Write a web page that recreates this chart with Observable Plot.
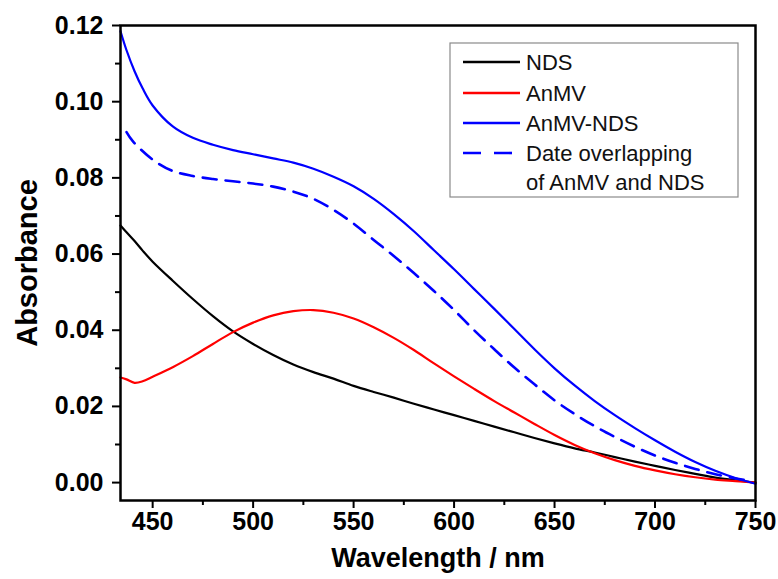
<!DOCTYPE html>
<html>
<head>
<meta charset="utf-8">
<script src="https://cdn.jsdelivr.net/npm/d3@7"></script>
<script src="https://cdn.jsdelivr.net/npm/@observablehq/plot@0.6"></script>
<style>
  html, body { margin: 0; padding: 0; background: #fff; }
  #wrap { position: relative; width: 778px; height: 579px; }
  #legend { position: absolute; left: 0; top: 0; }
</style>
</head>
<body>
<div id="wrap"></div>
<script>
// Wavelengths (nm) shared by the three measured spectra
const wavelength = [434, 437, 441, 445, 450, 460, 470, 480, 490, 500, 510, 520, 530, 540, 550, 560, 570, 580, 590, 600, 610, 620, 630, 640, 650, 660, 670, 680, 690, 700, 710, 720, 730, 740, 750];
// NDS absorbance
const nds = [0.0675, 0.0657, 0.0634, 0.0609, 0.0580, 0.0530, 0.0482, 0.0437, 0.0397, 0.0364, 0.0335, 0.0310, 0.0290, 0.0273, 0.0254, 0.0238, 0.0223, 0.0207, 0.0192, 0.0177, 0.0162, 0.0147, 0.0132, 0.0117, 0.0103, 0.0090, 0.0079, 0.0067, 0.0055, 0.0044, 0.0033, 0.0023, 0.0013, 0.0006, 0.0000];
// AnMV absorbance
const anmv = [0.0276, 0.0271, 0.0262, 0.0266, 0.0278, 0.0303, 0.0332, 0.0364, 0.0395, 0.0420, 0.0439, 0.0450, 0.0453, 0.0446, 0.0431, 0.0408, 0.0380, 0.0348, 0.0313, 0.0279, 0.0246, 0.0214, 0.0184, 0.0154, 0.0125, 0.0099, 0.0077, 0.0059, 0.0044, 0.0032, 0.0022, 0.0014, 0.0008, 0.0004, 0.0000];
// AnMV-NDS absorbance
const anmvNds = [0.1185, 0.1135, 0.1080, 0.1035, 0.0990, 0.0935, 0.0905, 0.0887, 0.0873, 0.0862, 0.0851, 0.0840, 0.0824, 0.0803, 0.0778, 0.0745, 0.0705, 0.0660, 0.0610, 0.0560, 0.0508, 0.0456, 0.0403, 0.0350, 0.0300, 0.0255, 0.0214, 0.0177, 0.0143, 0.0111, 0.0081, 0.0054, 0.0031, 0.0012, -0.0003];
// Date overlapping of AnMV and NDS (dashed)
const overlapWl = [437, 440, 450, 460, 470, 480, 490, 500, 510, 520, 530, 540, 550, 560, 570, 580, 590, 600, 610, 620, 630, 640, 650, 660, 670, 680, 690, 700, 710, 720, 730, 740, 745];
const overlap = [0.0920, 0.0897, 0.0848, 0.0818, 0.0805, 0.0797, 0.0791, 0.0785, 0.0777, 0.0764, 0.0745, 0.0716, 0.0680, 0.0637, 0.0595, 0.0550, 0.0503, 0.0453, 0.0400, 0.0350, 0.0302, 0.0258, 0.0216, 0.0180, 0.0148, 0.0120, 0.0094, 0.0071, 0.0052, 0.0036, 0.0022, 0.0011, 0.0007];

const xMajor = [450, 500, 550, 600, 650, 700, 750];
const xMinor = [475, 525, 575, 625, 675, 725];
const yMajor = [0, 0.02, 0.04, 0.06, 0.08, 0.10, 0.12];
const yMinor = [0.01, 0.03, 0.05, 0.07, 0.09, 0.11];

const seriesNames = ["NDS", "AnMV", "AnMV-NDS", "Date overlapping\nof AnMV and NDS"];
const seriesColors = ["#000000", "#ff0000", "#0000ff", "#0000ff"];
const seriesDash = [null, null, null, "14,9"];

const solid = [];
wavelength.forEach((w, i) => solid.push({series: "NDS", w, a: nds[i]}));
wavelength.forEach((w, i) => solid.push({series: "AnMV", w, a: anmv[i]}));
wavelength.forEach((w, i) => solid.push({series: "AnMV-NDS", w, a: anmvNds[i]}));
const dashed = overlapWl.map((w, i) => ({w, a: overlap[i]}));

const font = "'Liberation Sans', Arial, Helvetica, sans-serif";

const chart = Plot.plot({
  width: 778,
  height: 579,
  marginLeft: 120,
  marginRight: 23,
  marginTop: 25,
  marginBottom: 79,
  style: {fontFamily: font, fontSize: "25px", color: "#000", background: "#fff"},
  x: {domain: [434, 750]},
  y: {domain: [-0.0047, 0.12]},
  color: {domain: seriesNames.slice(0, 3), range: seriesColors.slice(0, 3)},
  marks: [
    Plot.line(solid, {x: "w", y: "a", z: "series", stroke: "series", strokeWidth: 2.2, curve: "catmull-rom"}),
    Plot.line(dashed, {x: "w", y: "a", stroke: seriesColors[3], strokeWidth: 2.6, strokeDasharray: seriesDash[3], curve: "catmull-rom"}),
    Plot.axisX({ticks: xMajor, tickSize: 8, tickPadding: 4, strokeWidth: 2, fontWeight: "bold",
      label: "Wavelength / nm", labelAnchor: "center", labelArrow: "none", labelOffset: 66, tickFormat: d3.format("d")}),
    Plot.axisX({ticks: xMinor, tickSize: 5, strokeWidth: 2, text: null, label: null}),
    Plot.axisY({ticks: yMajor, tickSize: 8, tickPadding: 9, strokeWidth: 2, fontWeight: "bold",
      tickFormat: d3.format(".2f"), label: "Absorbance", labelAnchor: "center", labelArrow: "none", labelOffset: 104}),
    Plot.axisY({ticks: yMinor, tickSize: 5, strokeWidth: 2, text: null, label: null}),
    Plot.frame({stroke: "#000", strokeWidth: 2.5})
  ]
});

// axis titles: bold and larger
const svg = d3.select(chart);
svg.selectAll("g[aria-label='x-axis label'] text")
  .attr("font-weight", "bold").attr("font-size", 27);
svg.selectAll("g[aria-label='y-axis label'] text")
  .attr("font-weight", "bold").attr("font-size", 29);

const wrap = document.getElementById("wrap");
wrap.appendChild(chart);

// Legend (inside the plot area, top right)
const leg = d3.select(wrap).append("svg")
  .attr("id", "legend")
  .attr("width", 778).attr("height", 579)
  .style("pointer-events", "none");
const bx = 450, by = 43, bw = 288, bh = 154;
leg.append("rect").attr("x", bx).attr("y", by).attr("width", bw).attr("height", bh)
  .attr("fill", "#fff").attr("stroke", "#8a8a8a").attr("stroke-width", 1.2);
const rowY = [62, 93, 123, 153];
seriesNames.forEach((name, i) => {
  const y = rowY[i];
  leg.append("line").attr("x1", 463).attr("x2", 520).attr("y1", y).attr("y2", y)
    .attr("stroke", seriesColors[i]).attr("stroke-width", 2.6)
    .attr("stroke-dasharray", seriesDash[i] ? "18,13" : null);
  name.split("\n").forEach((t, j) => {
    leg.append("text").attr("x", 526).attr("y", y + j * 29)
      .attr("dy", "0.36em")
      .attr("font-family", font).attr("font-size", 22).attr("fill", "#111")
      .text(t);
  });
});
</script>
</body>
</html>
